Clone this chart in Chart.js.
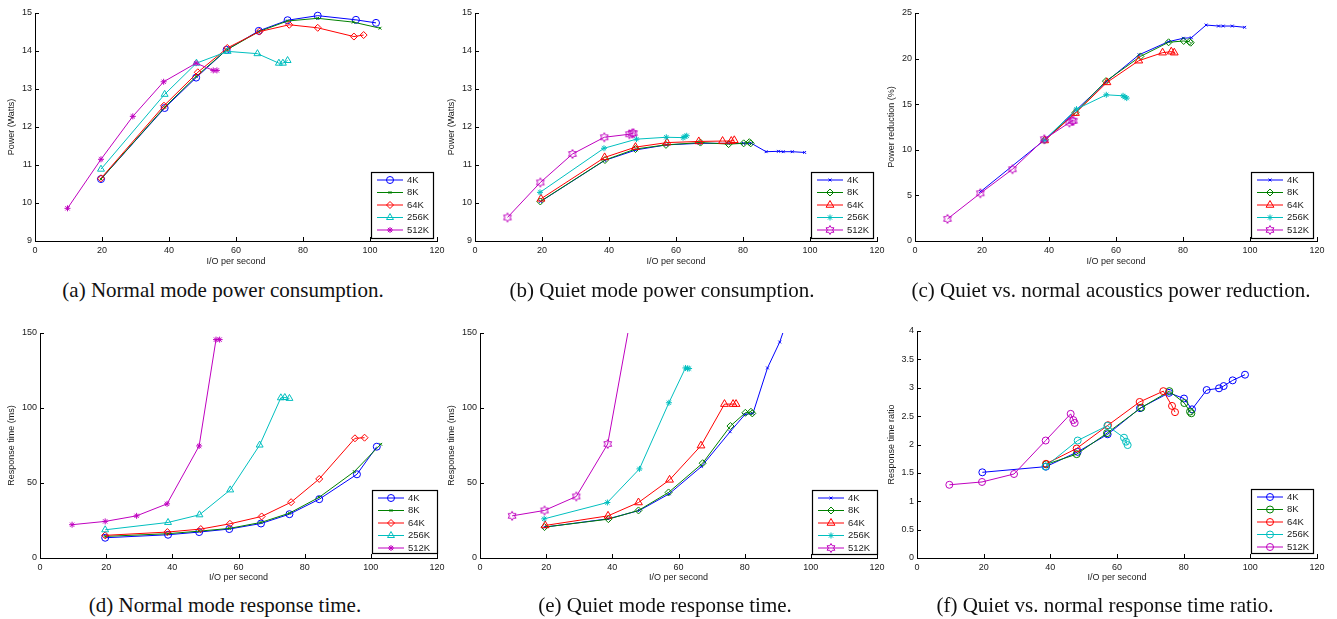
<!DOCTYPE html>
<html>
<head>
<meta charset="utf-8">
<title>Acoustic mode power and response time</title>
<script src="https://cdn.jsdelivr.net/npm/chart.js@4.4.1/dist/chart.umd.min.js"></script>
<style>
  body { margin: 0; background: #fff; width: 1337px; height: 619px; position: relative; overflow: hidden; }
  .panel { position: absolute; }
  .cap {
    position: absolute; white-space: nowrap; transform: translate(-50%, -50%);
    font-family: "Liberation Serif", "Times New Roman", serif; font-size: 21px; color: #111;
  }
</style>
</head>
<body>
<canvas class="panel" id="pa" width="460" height="270" style="left:0;top:0"></canvas>
<canvas class="panel" id="pb" width="460" height="270" style="left:440px;top:0"></canvas>
<canvas class="panel" id="pc" width="460" height="270" style="left:880px;top:0"></canvas>
<canvas class="panel" id="pd" width="460" height="270" style="left:0;top:320px"></canvas>
<canvas class="panel" id="pe" width="460" height="270" style="left:440px;top:320px"></canvas>
<canvas class="panel" id="pf" width="460" height="270" style="left:880px;top:320px"></canvas>

<div class="cap" style="left:223px;top:290px">(a) Normal mode power consumption.</div>
<div class="cap" style="left:662px;top:290px">(b) Quiet mode power consumption.</div>
<div class="cap" style="left:1111px;top:290px">(c) Quiet vs. normal acoustics power reduction.</div>
<div class="cap" style="left:225px;top:605px">(d) Normal mode response time.</div>
<div class="cap" style="left:665px;top:605px">(e) Quiet mode response time.</div>
<div class="cap" style="left:1105px;top:605px">(f) Quiet vs. normal response time ratio.</div>

<script>
// request sizes, one line per size in every panel
const sizes = ['4K', '8K', '64K', '256K', '512K'];

// I/O per second measured in normal acoustic mode (panels a, d)
const normIops4K   = [19.7, 38.7, 48.1, 57.2, 66.8, 75.4, 84.4, 95.8, 101.8];
const normIops8K   = [19.7, 38.7, 48.1, 57.2, 66.8, 75.4, 84.4, 95.0, 103.0];
const normIops64K  = [19.7, 38.5, 48.6, 57.4, 67.0, 75.9, 84.4, 95.2, 98.1];
const normIops256K = [19.7, 38.7, 48.2, 57.5, 66.4, 72.8, 74.0, 75.4];
const normIops512K = [9.7, 19.7, 29.2, 38.4, 48.1, 53.2, 54.3];

// I/O per second measured in quiet acoustic mode (panels b, c, e, f)
const quietIops4K   = [19.6, 38.7, 48.2, 57.2, 66.9, 75.6, 80.1, 82.5, 86.9, 90.6, 92.0, 94.7, 98.4];
const quietIops8K   = [19.5, 38.8, 47.9, 57.0, 67.3, 75.7, 80.2, 81.9, 82.3];
const quietIops64K  = [19.7, 38.7, 47.9, 57.3, 66.8, 73.9, 76.5, 77.4];
const quietIops256K = [19.4, 38.5, 48.2, 57.1, 62.1, 62.7, 63.2];
const quietIops512K = [9.7, 19.5, 29.1, 38.6, 46.1, 46.9, 47.3];

// (a) power, normal mode (Watts)
const normPower4K   = [10.63, 12.50, 13.30, 14.03, 14.53, 14.81, 14.93, 14.82, 14.74];
const normPower8K   = [10.63, 12.52, 13.33, 14.03, 14.51, 14.79, 14.86, 14.76, 14.60];
const normPower64K  = [10.65, 12.56, 13.44, 14.08, 14.51, 14.69, 14.61, 14.38, 14.42];
const normPower256K = [10.89, 12.86, 13.68, 13.99, 13.93, 13.68, 13.68, 13.75];
const normPower512K = [9.86, 11.15, 12.28, 13.19, 13.68, 13.49, 13.49];

// (b) power, quiet mode (Watts)
const quietPower4K   = [10.04, 11.12, 11.40, 11.53, 11.57, 11.57, 11.57, 11.57, 11.35, 11.36, 11.35, 11.35, 11.33];
const quietPower8K   = [10.04, 11.13, 11.42, 11.53, 11.59, 11.55, 11.57, 11.60, 11.57];
const quietPower64K  = [10.11, 11.20, 11.47, 11.59, 11.62, 11.63, 11.63, 11.65];
const quietPower256K = [10.28, 11.44, 11.68, 11.73, 11.72, 11.75, 11.77];
const quietPower512K = [9.62, 10.54, 11.29, 11.73, 11.81, 11.83, 11.84];

// (c) power reduction (%); 8K, 64K and 256K start at the second quiet point
const reduction4K   = [5.42, 11.09, 14.39, 17.50, 20.42, 21.85, 22.23, 22.29, 23.68, 23.57, 23.57, 23.57, 23.43];
const reduction8K   = [11.09, 14.09, 17.53, 20.24, 21.79, 21.93, 21.85, 21.74];
const reduction64K  = [11.02, 14.02, 17.39, 19.77, 20.65, 20.76, 20.65];
const reduction256K = [11.02, 14.46, 16.03, 15.92, 15.78, 15.67];
const reduction512K = [2.42, 5.23, 7.87, 11.16, 12.99, 13.18, 13.18];

// (d) response time, normal mode (ms)
const normResp4K   = [13.5, 15.5, 17.3, 19.3, 23.0, 29.2, 39.2, 55.8, 74.2];
const normResp8K   = [14.4, 16.2, 17.9, 19.7, 23.7, 29.9, 40.5, 57.6, 75.8];
const normResp64K  = [15.1, 17.3, 19.3, 22.8, 27.7, 37.2, 52.7, 79.8, 80.2];
const normResp256K = [18.8, 23.7, 28.8, 45.4, 75.3, 106.8, 107.0, 106.4];
const normResp512K = [22.2, 24.4, 28.1, 36.1, 74.7, 145.6, 145.6];

// (e) response time, quiet mode (ms); 4K and 512K run off the top of the axes
const quietResp4K   = [20.6, 26.1, 31.7, 42.8, 60.9, 84.2, 95.7, 96.4, 126.7, 144.0, 153.0];
const quietResp8K   = [20.6, 25.9, 31.7, 43.7, 63.2, 88.0, 96.8, 97.5, 96.4];
const quietResp64K  = [21.7, 28.1, 37.0, 52.1, 74.9, 102.6, 102.6, 102.6];
const quietResp256K = [26.1, 37.0, 59.4, 103.5, 126.7, 126.3, 126.3];
const quietResp512K = [28.1, 31.7, 41.0, 76.0, 167.0];

// (f) response time ratio, quiet / normal
const ratio4K   = [1.51, 1.61, 1.87, 2.18, 2.64, 2.91, 2.81, 2.62, 2.96, 2.99, 3.03, 3.13, 3.23];
const ratio8K   = [1.65, 1.83, 2.20, 2.65, 2.94, 2.73, 2.58, 2.55];
const ratio64K  = [1.66, 1.93, 2.34, 2.75, 2.94, 2.68, 2.57];
const ratio256K = [1.61, 2.07, 2.33, 2.12, 2.05, 1.99];
const ratio512K = [1.29, 1.34, 1.48, 2.07, 2.54, 2.43, 2.38];

const lineColors = ['#0000ff', '#008000', '#ff0000', '#00bfbf', '#bf00bf'];
const TEXT = '#1a1a1a';
const FONT = '"Liberation Sans", Arial, Helvetica, sans-serif';

Chart.defaults.font.family = FONT;
Chart.defaults.font.size = 9;
Chart.defaults.color = TEXT;

// MATLAB style hexagram marker, drawn once per colour
function hexagram(color, r) {
  const c = document.createElement('canvas');
  const s = Math.ceil(r * 2 + 3);
  c.width = c.height = s;
  const g = c.getContext('2d');
  g.strokeStyle = color;
  g.lineWidth = 1;
  g.beginPath();
  for (let i = 0; i < 12; i++) {
    const a = -Math.PI / 2 + i * Math.PI / 6;
    const rr = i % 2 ? r * 0.58 : r;
    const px = s / 2 + rr * Math.cos(a), py = s / 2 + rr * Math.sin(a);
    if (i === 0) g.moveTo(px, py); else g.lineTo(px, py);
  }
  g.closePath();
  g.stroke();
  return c;
}

const markersNormal = [
  { style: 'circle', r: 3.5 }, { style: 'crossRot', r: 2 }, { style: 'rectRot', r: 3.5 },
  { style: 'triangle', r: 4 }, { style: 'star', r: 3 }
];
const markersQuiet = [
  { style: 'crossRot', r: 2 }, { style: 'rectRot', r: 3.5 }, { style: 'triangle', r: 4.5 },
  { style: 'star', r: 3 }, { style: hexagram(lineColors[4], 4.5), r: 4.5 }
];
const markersRatio = sizes.map(() => ({ style: 'circle', r: 3.5 }));

function series(xs, ys) {
  return ys.map((v, i) => ({ x: xs[i], y: v }));
}

// inward tick marks and the boxed legend inside the axes
const matlabAxes = {
  id: 'matlabAxes',
  afterDraw(chart, args, opts) {
    const { ctx, chartArea: a, scales: { x, y } } = chart;
    ctx.save();
    ctx.strokeStyle = '#000';
    ctx.lineWidth = 1;
    ctx.beginPath();
    x.ticks.forEach(t => {
      const px = Math.round(x.getPixelForValue(t.value)) + 0.5;
      ctx.moveTo(px, a.bottom); ctx.lineTo(px, a.bottom - 4);
    });
    y.ticks.forEach(t => {
      const py = Math.round(y.getPixelForValue(t.value)) + 0.5;
      ctx.moveTo(a.left, py); ctx.lineTo(a.left + 4, py);
    });
    ctx.stroke();

    const b = opts.box;
    ctx.fillStyle = '#fff';
    ctx.fillRect(b.x, b.y, b.w, b.h);
    ctx.lineWidth = 1.2;
    ctx.strokeRect(b.x + 0.5, b.y + 0.5, b.w, b.h);
    ctx.font = '9.5px ' + FONT;
    ctx.textBaseline = 'middle';
    ctx.textAlign = 'left';
    chart.data.datasets.forEach((ds, i) => {
      const yy = b.y + 8 + i * 12.5;
      ctx.strokeStyle = ds.borderColor;
      ctx.lineWidth = 1;
      ctx.beginPath();
      ctx.moveTo(b.x + 6, yy); ctx.lineTo(b.x + 32, yy);
      ctx.stroke();
      ctx.fillStyle = 'rgba(0,0,0,0)';
      Chart.helpers.drawPoint(ctx, { pointStyle: ds.pointStyle, radius: ds.pointRadius, rotation: 0, borderWidth: 1 }, b.x + 19, yy);
      ctx.fillStyle = TEXT;
      ctx.fillText(ds.label, b.x + 36, yy);
    });
    ctx.restore();
  }
};

// MATLAB prints ticks without trailing zeros: 4, 3.5, 3 ...
const plainTick = v => String(Math.round(v * 100) / 100);

function makePanel(p) {
  const canvas = document.getElementById(p.id);
  const W = canvas.width, H = canvas.height;
  const datasets = p.data.map((pts, i) => ({
    label: sizes[i],
    data: pts,
    borderColor: lineColors[i],
    borderWidth: 1,
    pointStyle: p.markers[i].style,
    pointRadius: p.markers[i].r,
    pointBorderColor: lineColors[i],
    pointBackgroundColor: 'rgba(0,0,0,0)',
    pointBorderWidth: 1,
    tension: 0,
    order: 4 - i,
    clip: p.clip !== undefined ? p.clip : 6
  }));

  new Chart(canvas, {
    type: 'line',
    data: { datasets },
    options: {
      responsive: false,
      animation: false,
      events: [],
      layout: { padding: { top: p.area.top, right: W - 437, left: 0, bottom: 0 } },
      plugins: {
        legend: { display: false },
        tooltip: { enabled: false },
        matlabAxes: { box: p.legend }
      },
      scales: {
        x: {
          type: 'linear',
          min: 0, max: 120,
          ticks: { stepSize: 20, padding: 4, color: TEXT, callback: plainTick },
          grid: { display: false, drawTicks: false },
          border: { color: '#000', width: 1 },
          title: { display: true, text: 'I/O per second', color: TEXT, padding: { top: 0, bottom: p.xTitlePad } },
          afterFit: s => { s.height = H - p.area.bottom; }
        },
        y: {
          type: 'linear',
          min: p.yMin, max: p.yMax,
          ticks: { stepSize: p.yStep, padding: 3, color: TEXT, callback: plainTick },
          grid: { display: false, drawTicks: false },
          border: { color: '#000', width: 1 },
          title: { display: true, text: p.yTitle, color: TEXT, padding: { top: 6.5, bottom: 0 } },
          afterFit: s => { s.width = p.area.left; }
        }
      }
    },
    plugins: [matlabAxes]
  });
}

makePanel({
  id: 'pa', yMin: 9, yMax: 15, yStep: 1, yTitle: 'Power (Watts)',
  area: { left: 35, top: 13, bottom: 241 }, xTitlePad: 2.6,
  legend: { x: 371, y: 172, w: 62, h: 66 }, markers: markersNormal,
  data: [
    series(normIops4K, normPower4K), series(normIops8K, normPower8K), series(normIops64K, normPower64K),
    series(normIops256K, normPower256K), series(normIops512K, normPower512K)
  ]
});

makePanel({
  id: 'pb', yMin: 9, yMax: 15, yStep: 1, yTitle: 'Power (Watts)',
  area: { left: 35, top: 13, bottom: 241 }, xTitlePad: 2.6,
  legend: { x: 371, y: 172, w: 62, h: 66 }, markers: markersQuiet,
  data: [
    series(quietIops4K, quietPower4K), series(quietIops8K, quietPower8K), series(quietIops64K, quietPower64K),
    series(quietIops256K, quietPower256K), series(quietIops512K, quietPower512K)
  ]
});

makePanel({
  id: 'pc', yMin: 0, yMax: 25, yStep: 5, yTitle: 'Power reduction (%)',
  area: { left: 35, top: 13, bottom: 241 }, xTitlePad: 2.6,
  legend: { x: 371, y: 172, w: 62, h: 66 }, markers: markersQuiet,
  data: [
    series(quietIops4K, reduction4K), series(quietIops8K.slice(1), reduction8K),
    series(quietIops64K.slice(1), reduction64K), series(quietIops256K.slice(1), reduction256K),
    series(quietIops512K, reduction512K)
  ]
});

makePanel({
  id: 'pd', yMin: 0, yMax: 150, yStep: 50, yTitle: 'Response time (ms)',
  area: { left: 40, top: 13, bottom: 238 }, xTitlePad: 6.6,
  legend: { x: 372, y: 170, w: 65, h: 63 }, markers: markersNormal,
  data: [
    series(normIops4K, normResp4K), series(normIops8K, normResp8K), series(normIops64K, normResp64K),
    series(normIops256K, normResp256K), series(normIops512K, normResp512K)
  ]
});

makePanel({
  id: 'pe', yMin: 0, yMax: 150, yStep: 50, yTitle: 'Response time (ms)',
  area: { left: 40, top: 13, bottom: 238 }, xTitlePad: 6.6, clip: 0,
  legend: { x: 372, y: 170, w: 65, h: 64 }, markers: markersQuiet,
  data: [
    series(quietIops4K, quietResp4K), series(quietIops8K, quietResp8K), series(quietIops64K, quietResp64K),
    series(quietIops256K, quietResp256K), series(quietIops512K, quietResp512K)
  ]
});

makePanel({
  id: 'pf', yMin: 0, yMax: 4, yStep: 0.5, yTitle: 'Response time ratio',
  area: { left: 37, top: 11, bottom: 238 }, xTitlePad: 6.6,
  legend: { x: 371, y: 169, w: 62, h: 64 }, markers: markersRatio,
  data: [
    series(quietIops4K, ratio4K), series(quietIops8K.slice(1), ratio8K),
    series(quietIops64K.slice(1), ratio64K), series(quietIops256K.slice(1), ratio256K),
    series(quietIops512K, ratio512K)
  ]
});
</script>
</body>
</html>
